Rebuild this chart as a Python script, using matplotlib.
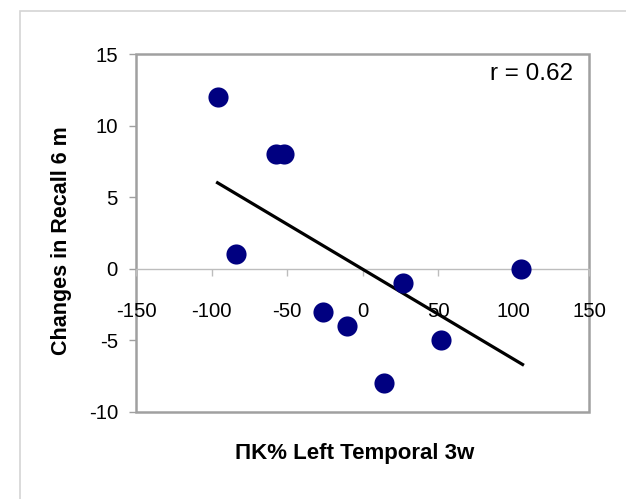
import matplotlib.pyplot as plt
from matplotlib.patches import Rectangle

plt.rcParams['font.family'] = ['Liberation Sans', 'DejaVu Sans']
plt.rcParams['axes.unicode_minus'] = False

# data
k_change = [-96, -57, -52, -84, -26, -10, 14, 27, 52, 105]
recall_change = [12, 8, 8, 1, -3, -4, -8, -1, -5, 0]

# fitted trend line end points
trend_x = [-96, 106]
trend_y = [6.0, -6.7]

x_ticks = [-150, -100, -50, 0, 50, 100, 150]
y_ticks = [-10, -5, 0, 5, 10, 15]

fig = plt.figure(figsize=(6.26, 4.99), dpi=100)

# light outer chart frame (runs off the right and bottom edges)
fig.patches.append(Rectangle((20 / 626, -0.2), 1.2, 1.2 - 11 / 499,
                             transform=fig.transFigure, fill=False,
                             edgecolor='#d4d4d4', linewidth=1.2))

ax = fig.add_axes([136 / 626, 1 - 411.7 / 499, (589 - 136) / 626, (411.7 - 54) / 499])
ax.set_xlim(-150, 150)
ax.set_ylim(-10, 15)

# plot-area border
ax.add_patch(Rectangle((0, 0), 1, 1, transform=ax.transAxes, fill=False,
                       edgecolor='#a0a0a0', linewidth=1.8, zorder=1, clip_on=False))

for side in ['top', 'right', 'left']:
    ax.spines[side].set_visible(False)
ax.spines['bottom'].set_position(('data', 0))
ax.spines['bottom'].set_color('#bdbdbd')
ax.spines['bottom'].set_linewidth(1.0)

ax.plot(trend_x, trend_y, color='black', linewidth=2.3, zorder=3)
ax.scatter(k_change, recall_change, s=210, color='#000080', zorder=4, linewidths=0)

ax.set_xticks(x_ticks)
ax.set_yticks(y_ticks)
ax.tick_params(axis='x', direction='out', length=5, width=1, color='#bdbdbd',
               pad=19, labelsize=14.6)
ax.tick_params(axis='y', direction='out', length=5, width=1, color='#a0a0a0',
               pad=8, labelsize=14.6)

ax.text(0.965, 0.945, 'r = 0.62', transform=ax.transAxes, ha='right', va='center',
        fontsize=17.5)

fig.text(62 / 626, 1 - 241 / 499, 'Changes in Recall 6 m', rotation=90,
         ha='center', va='center', fontsize=15.5, fontweight='bold')
fig.text(355 / 626, 1 - 453 / 499, 'ΠK% Left Temporal 3w',
         ha='center', va='center', fontsize=16, fontweight='bold')

fig.savefig('out.png', dpi=100)
